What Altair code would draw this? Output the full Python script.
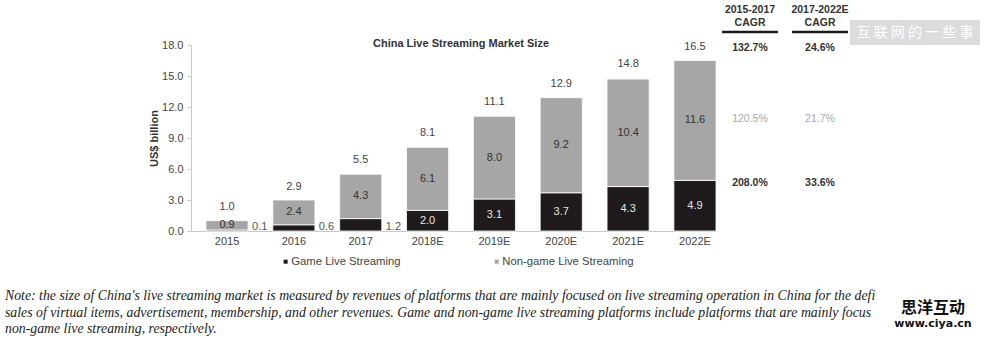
import altair as alt
import pandas as pd

# ---------------- data ----------------
years = ["2015", "2016", "2017", "2018E", "2019E", "2020E", "2021E", "2022E"]
game = [0.1, 0.6, 1.2, 2.0, 3.1, 3.7, 4.3, 4.9]
nongame = [0.9, 2.4, 4.3, 6.1, 8.0, 9.2, 10.4, 11.6]
totals = [1.0, 2.9, 5.5, 8.1, 11.1, 12.9, 14.8, 16.5]
series = ["Game Live Streaming", "Non-game Live Streaming"]
y_ticks = [0, 3, 6, 9, 12, 15, 18]

chart_title = "China Live Streaming Market Size"
y_title = "US$ billion"

cagr_head_1 = ["2015-2017", "CAGR"]
cagr_head_2 = ["2017-2022E", "CAGR"]
cagr_total = ["132.7%", "24.6%"]
cagr_nongame = ["120.5%", "21.7%"]
cagr_game = ["208.0%", "33.6%"]

note_lines = [
    "Note: the size of China's live streaming market is measured by revenues of platforms that are mainly focused on live streaming operation in China for the defined period, including",
    "sales of virtual items, advertisement, membership, and other revenues. Game and non-game live streaming platforms include platforms that are mainly focused on game and",
    "non-game live streaming, respectively.",
]
note_visible_width = [876, 868, 900]  # the watermark hides the rest of lines 1-2
watermark_top = "互 联 网 的 一 些 事"
watermark_bottom = ["思洋互动", "www.ciya.cn"]

# ---------------- tables ----------------
long_df = pd.DataFrame({
    "year": years * 2,
    "series": [series[0]] * len(years) + [series[1]] * len(years),
    "value": game + nongame,
    "order": [0] * len(years) + [1] * len(years),
})
wide_df = pd.DataFrame({"year": years, "game": game, "nongame": nongame, "total": totals})

FONT = "Liberation Sans"

x_scale = alt.Scale(paddingInner=0.37, paddingOuter=0.112, align=1)
x_axis = alt.Axis(title=None, labelAngle=0, ticks=False, labelPadding=4,
                  domainColor="#c8c8c8", labelColor="#444", labelFontSize=11,
                  labelFont=FONT)
y_scale = alt.Scale(domain=[0, 18], nice=False, zero=True)
y_axis = alt.Axis(values=y_ticks, format=".1f", title=y_title, titleFontWeight="bold",
                  titleFontSize=11, titleColor="#333", titleFont=FONT, titlePadding=2,
                  tickSize=4, tickColor="#c8c8c8", domainColor="#c8c8c8",
                  labelPadding=4, grid=False, labelColor="#444", labelFontSize=11,
                  labelFont=FONT)

xb = alt.X("year:N", sort=years, scale=x_scale, axis=x_axis)

bars = alt.Chart(long_df).mark_bar(stroke="white", strokeWidth=0.8).encode(
    x=xb,
    y=alt.Y("value:Q", stack="zero", scale=y_scale, axis=y_axis),
    color=alt.Color("series:N",
                    scale=alt.Scale(domain=series, range=["#1f1b1c", "#a6a6a6"]),
                    legend=alt.Legend(title=None, orient="none", legendX=89, legendY=211,
                                      direction="horizontal", symbolType="square",
                                      symbolSize=16, symbolStrokeWidth=0,
                                      labelFontSize=11.3, labelColor="#444",
                                      labelFont=FONT, labelOffset=0, columnPadding=90)),
    order=alt.Order("order:Q"),
)

total_text = alt.Chart(wide_df).mark_text(dy=-14, fontSize=11, color="#444", font=FONT).encode(
    x=xb, y=alt.Y("total:Q", scale=y_scale, axis=y_axis),
    text=alt.Text("total:Q", format=".1f"),
)

nongame_text = alt.Chart(wide_df).transform_calculate(
    mid="datum.game + datum.nongame / 2"
).mark_text(fontSize=11, color="#333", font=FONT).encode(
    x=xb, y=alt.Y("mid:Q", scale=y_scale, axis=y_axis),
    text=alt.Text("nongame:Q", format=".1f"),
)

game_in_text = alt.Chart(wide_df).transform_filter("datum.game >= 2").transform_calculate(
    mid="datum.game / 2"
).mark_text(fontSize=11, color="#e6e6e6", font=FONT).encode(
    x=xb, y=alt.Y("mid:Q", scale=y_scale, axis=y_axis),
    text=alt.Text("game:Q", format=".1f"),
)

game_out_text = alt.Chart(wide_df).transform_filter("datum.game < 2").transform_calculate(
    base="0"
).mark_text(fontSize=11, color="#555", font=FONT, align="left", dx=25,
            baseline="alphabetic", dy=-1).encode(
    x=xb, y=alt.Y("base:Q", scale=y_scale, axis=y_axis),
    text=alt.Text("game:Q", format=".1f"),
)


def label(text, x, y, **kw):
    return alt.Chart(pd.DataFrame({"t": [text]})).mark_text(**kw).encode(
        x=alt.value(x), y=alt.value(y), text="t:N")


layers = [bars, total_text, nongame_text, game_in_text, game_out_text]

layers.append(label(chart_title, 270, -1, font=FONT, fontSize=11, fontWeight="bold", color="#333"))

# CAGR table
col_x = [559, 629]
for i, head in enumerate([cagr_head_1, cagr_head_2]):
    layers.append(label(head[0], col_x[i], -35, font=FONT, fontSize=10.5, fontWeight="bold", color="#333"))
    layers.append(label(head[1], col_x[i], -22, font=FONT, fontSize=10.5, fontWeight="bold", color="#333"))
    layers.append(alt.Chart(pd.DataFrame({"t": [head[0]]})).mark_rule(color="#1a1a1a", strokeWidth=2.5).encode(
        x=alt.value(col_x[i] - 28), x2=alt.value(col_x[i] + 28), y=alt.value(-13)))
for i in range(2):
    layers.append(label(cagr_total[i], col_x[i], 3, font=FONT, fontSize=10.5, fontWeight="bold", color="#333"))
    layers.append(label(cagr_nongame[i], col_x[i], 74, font=FONT, fontSize=10.5, color="#a8a8a8"))
    layers.append(label(cagr_game[i], col_x[i], 138, font=FONT, fontSize=10.5, fontWeight="bold", color="#333"))

# top watermark
layers.append(alt.Chart(pd.DataFrame({"t": [watermark_top]})).mark_rect(color="#dcdcdc").encode(
    x=alt.value(659), x2=alt.value(789), y=alt.value(-25), y2=alt.value(0)))
layers.append(label(watermark_top, 724, -12, font="Noto Sans CJK SC", fontSize=14, color="white"))

# note (lines 1-2 are partly hidden behind the watermark in the source)
for i, line in enumerate(note_lines):
    layers.append(label(line, -186, 251 + i * 16.5, font="Liberation Serif", fontStyle="italic",
                        fontSize=13.8, color="#222", align="left",
                        limit=note_visible_width[i], ellipsis="\u200b"))

# bottom watermark
layers.append(label(watermark_bottom[0], 742, 263, font="Noto Sans CJK SC", fontSize=16,
                    fontWeight="bold", color="#111"))
layers.append(label(watermark_bottom[1], 742, 279, font="DejaVu Sans", fontSize=11,
                    fontWeight="bold", color="#111"))

chart = alt.layer(*layers).properties(
    width=525, height=186,
    padding={"left": 191, "top": 45, "right": 284, "bottom": 107},
    autosize=alt.AutoSizeParams(type="none"),
).configure(font=FONT, view=alt.ViewConfig(stroke=None))

chart.save("out.html", embed_options={"renderer": "svg", "actions": False})
